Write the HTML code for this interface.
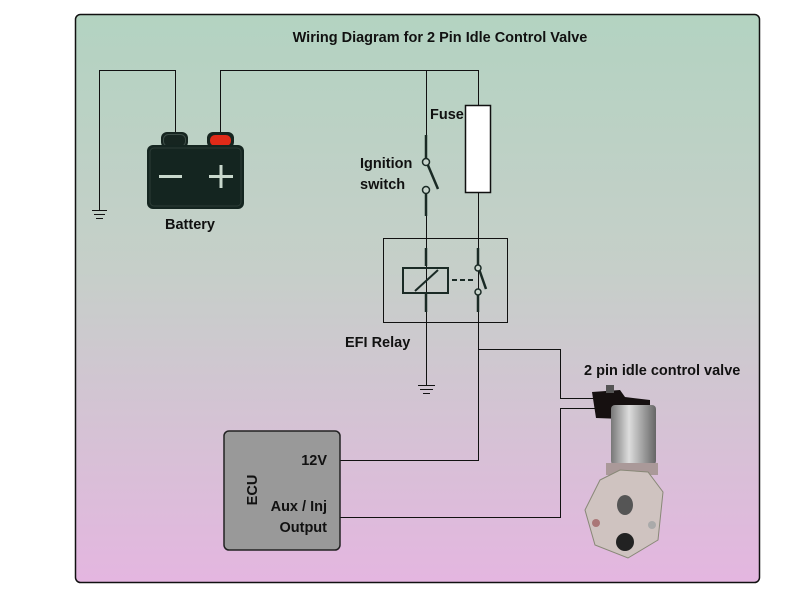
<!DOCTYPE html>
<html><head><style>
body{margin:0;width:800px;height:600px;background:#fff;overflow:hidden}
</style></head><body>
<svg width="800" height="600" xmlns="http://www.w3.org/2000/svg" style="display:block">
<defs>
<linearGradient id="bg" x1="0" y1="0" x2="0" y2="1">
<stop offset="0" stop-color="#b3d3c1"/><stop offset="0.45" stop-color="#c6cfc9"/><stop offset="1" stop-color="#e4b6e0"/>
</linearGradient>
<linearGradient id="cyl" x1="0" y1="0" x2="1" y2="0">
<stop offset="0" stop-color="#777"/><stop offset="0.4" stop-color="#ddd"/><stop offset="1" stop-color="#666"/>
</linearGradient>
</defs>
<rect x="75.5" y="14.5" width="684" height="568" rx="5" fill="url(#bg)" stroke="#111" stroke-width="1.5"/>
<g stroke="#111" stroke-width="1" fill="none">
<polyline points="99.5,210 99.5,70.5 175.5,70.5 175.5,135"/>
<polyline points="220.5,135 220.5,70.5 478.5,70.5 478.5,106"/>
<line x1="426.5" y1="70" x2="426.5" y2="135"/>
<line x1="426.5" y1="200" x2="426.5" y2="385"/>
<polyline points="478.5,192 478.5,460.5 340,460.5"/>
<polyline points="478.5,349.5 560.5,349.5 560.5,398.5 595,398.5"/>
<polyline points="340,517.5 560.5,517.5 560.5,408.5 595,408.5"/>
<rect x="383.5" y="238.5" width="124" height="84"/>
<line x1="92" y1="210.5" x2="107" y2="210.5"/><line x1="94" y1="214.5" x2="105" y2="214.5"/><line x1="96" y1="218.5" x2="103" y2="218.5"/>
<line x1="418" y1="385.5" x2="435" y2="385.5"/><line x1="420" y1="389.5" x2="433" y2="389.5"/><line x1="423" y1="393.5" x2="430" y2="393.5"/>
</g>
<rect x="465.5" y="105.5" width="25" height="87" fill="#fff" stroke="#111" stroke-width="1.5"/>
<g stroke="#1a2a25" stroke-width="2.5" fill="none">
<line x1="426" y1="135" x2="426" y2="160"/>
<line x1="426" y1="191" x2="426" y2="216"/>
<line x1="427" y1="163" x2="438" y2="189"/>
<line x1="426" y1="248" x2="426" y2="266"/>
<line x1="426" y1="294" x2="426" y2="312"/>
<rect x="403" y="268" width="45" height="25" stroke-width="2"/>
<line x1="415" y1="291" x2="438" y2="270" stroke-width="2"/>
<line x1="452" y1="280" x2="476" y2="280" stroke-dasharray="5,3" stroke-width="2"/>
<line x1="478" y1="248" x2="478" y2="265"/>
<line x1="478" y1="295" x2="478" y2="312"/>
<line x1="479" y1="269" x2="486" y2="289"/>
</g>
<g fill="#c8d4cc" stroke="#1a2a25" stroke-width="1.5">
<circle cx="426" cy="162" r="3.5"/><circle cx="426" cy="190" r="3.5"/>
<circle cx="478" cy="268" r="3"/><circle cx="478" cy="292" r="3"/>
</g>
<!-- battery -->
<rect x="161" y="132" width="27" height="16" rx="6" fill="#162520"/>
<rect x="163.5" y="134.5" width="22" height="12" rx="5" fill="none" stroke="#3c4c46"/>
<rect x="207" y="132" width="27" height="16" rx="6" fill="#162520"/>
<rect x="210" y="135" width="21" height="11" rx="5" fill="#e02a18"/>
<rect x="147" y="145" width="97" height="64" rx="6" fill="#142520"/>
<rect x="150" y="148" width="91" height="58" rx="4" fill="none" stroke="#2c3c36"/>
<rect x="159" y="175" width="23" height="3" fill="#c8d8cc"/>
<rect x="209" y="175" width="24" height="3" fill="#c8d8cc"/>
<rect x="219.5" y="165" width="3" height="23" fill="#c8d8cc"/>
<!-- ECU -->
<rect x="224" y="431" width="116" height="119" rx="5" fill="#999" stroke="#222" stroke-width="1.5"/>
<!-- valve -->
<path d="M592,392 L620,390 L625,397 L650,400 L650,420 L596,418 Z" fill="#161010"/>
<rect x="606" y="385" width="8" height="8" fill="#555"/>
<rect x="611" y="405" width="45" height="60" rx="4" fill="url(#cyl)"/>
<rect x="606" y="463" width="52" height="12" fill="#a99"/>
<path d="M600,480 L620,470 L648,472 L663,492 L658,540 L628,558 L595,545 L585,510 Z" fill="#cfc3c0" stroke="#887" />
<ellipse cx="625" cy="505" rx="8" ry="10" fill="#555"/>
<circle cx="625" cy="542" r="9" fill="#222"/>
<circle cx="596" cy="523" r="4" fill="#a77"/>
<circle cx="652" cy="525" r="4" fill="#aaa"/>
<g font-family="Liberation Sans, sans-serif" font-weight="bold" font-size="14.5" fill="#111">
<text x="440" y="42" text-anchor="middle">Wiring Diagram for 2 Pin Idle Control Valve</text>
<text x="190" y="229" text-anchor="middle">Battery</text>
<text x="430" y="119">Fuse</text>
<text x="360" y="168">Ignition</text>
<text x="360" y="189">switch</text>
<text x="345" y="347">EFI Relay</text>
<text x="584" y="375">2 pin idle control valve</text>
<text x="327" y="465" text-anchor="end">12V</text>
<text x="327" y="511" text-anchor="end">Aux / Inj</text>
<text x="327" y="532" text-anchor="end">Output</text>
<text x="252" y="490" text-anchor="middle" transform="rotate(-90 252 490)" dy="5">ECU</text>
</g>
</svg>
</body></html>
